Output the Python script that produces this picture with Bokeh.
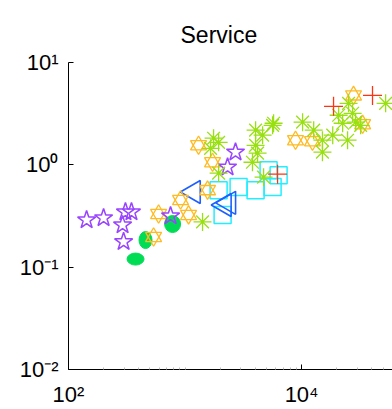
import math
from bokeh.plotting import figure
from bokeh.models import ColumnDataSource, FixedTicker, Range1d
from bokeh.embed import file_html
from bokeh.resources import INLINE

# ---- data ----
purple_x = [143, 200, 308, 347, 291, 297, 751, 2710, 2317]
purple_y = [0.289, 0.303, 0.346, 0.346, 0.258, 0.177, 0.316, 1.33, 0.949]

orange_x = [537, 593, 915, 1072, 1560, 1306, 1722, 8870, 12400, 27900, 33400]
orange_y = [0.197, 0.331, 0.453, 0.324, 0.566, 1.555, 1.06, 1.74, 1.70, 4.77, 2.49]

green_x = [1413, 1757, 1941, 1656, 1941, 4030, 5640, 4630, 4030, 4190, 3790, 4720,
           5750, 10200, 12700, 15100, 15100, 18500, 20800, 22500, 24800, 25300,
           27400, 29100, 32100, 52600]
green_y = [0.277, 1.82, 1.66, 1.45, 0.830, 2.18, 2.43, 1.95, 1.55, 1.30, 1.06, 0.758,
           2.55, 2.61, 2.18, 1.74, 1.33, 1.95, 3.05, 2.55, 1.74, 3.99,
           3.19, 2.61, 2.43, 3.99]

red_x = [40600, 18800, 6220]
red_y = [4.77, 3.73, 0.811]

blue_x = [1184, 2180, 2380]
blue_y = [0.542, 0.405, 0.425]

cyan_x = [1941, 2880, 4030, 5210, 6350, 5640, 2100]
cyan_y = [0.566, 0.606, 0.566, 0.887, 0.793, 0.606, 0.324]

ell_x = [782, 458, 376]
ell_y = [0.264, 0.184, 0.120]

x_tick_labels = {100: "10²", 10000: "10⁴"}
y_tick_labels = {0.01: "10⁻²", 0.1: "10⁻¹", 1: "10⁰", 10: "10¹"}

# ---- styling ----
ell_w = [16, 13, 17]
ell_h = [17, 17, 12]

FONT = "Liberation Sans"

p = figure(width=392, height=409, x_axis_type="log", y_axis_type="log",
           output_backend="svg", toolbar_location=None,
           x_range=Range1d(100, 10 ** 4.78), y_range=Range1d(0.01, 10),
           min_border_left=68, min_border_right=0, min_border_top=62,
           min_border_bottom=39, title="Service")
p.outline_line_color = None
p.xgrid.visible = False
p.ygrid.visible = False
p.background_fill_color = "white"
p.border_fill_color = "white"

p.title.text_font = FONT
p.title.text_font_size = "23px"
p.title.text_font_style = "normal"
p.title.text_color = "black"
p.title.align = "left"
p.title.offset = 112
p.title.standoff = 30

minor_x = [m * 10 ** k for k in range(2, 5) for m in range(2, 10)] + [1000]
p.xaxis.ticker = FixedTicker(ticks=list(x_tick_labels.keys()), minor_ticks=minor_x)
p.yaxis.ticker = FixedTicker(ticks=list(y_tick_labels.keys()), minor_ticks=[])
p.xaxis.major_label_overrides = x_tick_labels
p.yaxis.major_label_overrides = y_tick_labels

for ax in (p.xaxis, p.yaxis):
    ax.major_label_text_font = FONT
    ax.major_label_text_font_size = "22px"
    ax.major_label_text_color = "black"
    ax.axis_line_color = "black"
    ax.major_tick_line_color = "black"
    ax.major_tick_in = 5
    ax.major_tick_out = 0
    ax.minor_tick_in = 2
    ax.minor_tick_out = 0
    ax.minor_tick_line_color = "#bbbbbb"
p.xaxis.major_label_standoff = 12
p.yaxis.major_label_standoff = 10

# ellipses (filled green)
p.ellipse(x=ell_x, y=ell_y, width=ell_w, height=ell_h,
          width_units="screen", height_units="screen",
          fill_color="#00dd55", line_color="#00dd55")

# cyan squares
p.scatter(x=cyan_x, y=cyan_y, marker="square", size=17, fill_color=None,
          line_color="#22eeff", line_width=1.5)

# blue left triangles
p.scatter(x=blue_x, y=blue_y, marker="triangle", angle=math.pi / 2, size=23,
          fill_color=None, line_color="#1f5fff", line_width=1.6)

# orange hexagrams (two overlaid triangles)
osrc = ColumnDataSource(dict(x=orange_x, y=orange_y))
p.scatter(x="x", y="y", source=osrc, marker="triangle", size=16, fill_color=None,
          line_color="#ffbb22", line_width=1.3)
p.scatter(x="x", y="y", source=osrc, marker="inverted_triangle", size=16, fill_color=None,
          line_color="#ffbb22", line_width=1.3)

# purple stars
p.scatter(x=purple_x, y=purple_y, marker="star", size=19, fill_color=None,
          line_color="#9944ff", line_width=1.5)

# green asterisks
p.scatter(x=green_x, y=green_y, marker="asterisk", size=18,
          line_color="#99e011", line_width=1.3)

# red plus
p.scatter(x=red_x, y=red_y, marker="cross", size=19,
          line_color="#ff3311", line_width=1.3)

open("out.html", "w").write(file_html(p, INLINE))
